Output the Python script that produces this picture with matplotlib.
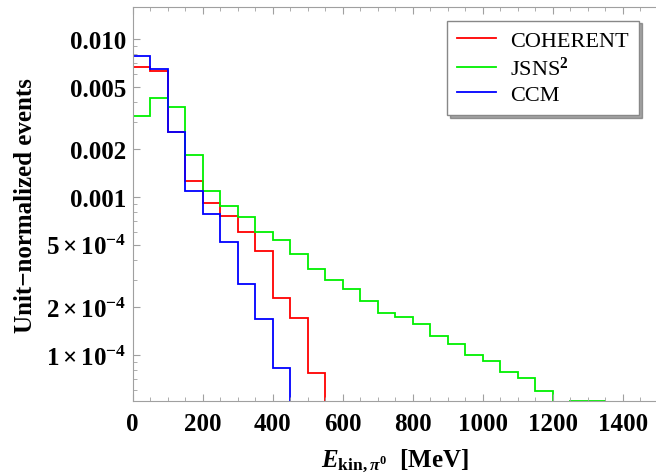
import numpy as np
import matplotlib
matplotlib.use("Agg")
import matplotlib.pyplot as plt
from matplotlib.ticker import FixedLocator, MultipleLocator

plt.rcParams["font.family"] = ["Liberation Serif", "DejaVu Serif"]
plt.rcParams["mathtext.fontset"] = "custom"
plt.rcParams["mathtext.rm"] = "Liberation Serif:bold"
plt.rcParams["mathtext.bf"] = "Liberation Serif:bold"
plt.rcParams["mathtext.it"] = "Liberation Serif:italic:bold"

# bin edges, 50 MeV wide
edges = np.arange(0, 1501, 50)

coherent = [0.00668, 0.00630, 0.00259, 0.001268, 0.000916, 0.000762,
            0.000598, 0.000453, 0.000230, 0.000171, 7.69e-5]
jsns2 = [0.00327, 0.00424, 0.00370, 0.001845, 0.001087, 0.000877,
         0.000745, 0.000600, 0.000535, 0.000436, 0.000352, 0.000300,
         0.000262, 0.000221, 0.000185, 0.000173, 0.000156, 0.000131,
         0.0001174, 0.0001005, 9.2e-5, 7.78e-5, 7.15e-5, 5.89e-5,
         0.0, 5.14e-5, 5.14e-5]
ccm = [0.00784, 0.00645, 0.00259, 0.001096, 0.000780, 0.000516,
       0.000281, 0.000169, 8.28e-5]

series = [("COHERENT", coherent, "#ff0000"),
          ("JSNS$^2$", jsns2, "#00f000"),
          ("CCM", ccm, "#0000ff")]

ytick_vals = [0.01, 0.005, 0.002, 0.001, 5e-4, 2e-4, 1e-4]
ytick_labels = ["0.010", "0.005", "0.002", "0.001",
                r"$5\times10^{-4}$", r"$2\times10^{-4}$", r"$1\times10^{-4}$"]


def padded(vals):
    out = np.zeros(len(edges) - 1)
    out[:len(vals)] = vals
    return out


fig = plt.figure(figsize=(6.56, 4.77), dpi=100)
ax = fig.add_axes([0.2023, 0.1566, 0.8003, 0.826])

for name, vals, col in series:
    ax.stairs(padded(vals), edges, baseline=None, color=col, lw=1.3,
              label=name)

ax.set_yscale("log")
ax.set_xlim(0, 1500)
ax.set_ylim(5.09e-5, 0.01587)

ax.yaxis.set_major_locator(FixedLocator(ytick_vals))
ax.set_yticklabels(ytick_labels)
minor = [m * 10.0 ** e for e in (-5, -4, -3, -2) for m in range(1, 10)]
minor = [v for v in minor if v not in ytick_vals]
ax.yaxis.set_minor_locator(FixedLocator(minor))
ax.xaxis.set_major_locator(MultipleLocator(200))
ax.xaxis.set_minor_locator(MultipleLocator(50))

frame = "#a0a0a0"
for s in ax.spines.values():
    s.set_color(frame)
ax.tick_params(which="both", direction="in", color=frame, top=True,
               right=False, labelsize=18)
ax.tick_params(which="major", length=5)
ax.tick_params(which="minor", length=3)
ax.tick_params(axis="x", pad=8)
ax.tick_params(axis="y", pad=4.5)
for lab in ax.get_xticklabels() + ax.get_yticklabels():
    lab.set_fontweight("bold")

ax.set_ylabel("Unit\u2212normalized events", fontsize=18, fontweight="bold",
              labelpad=7)
ax.set_xlabel(r"$E_{\mathrm{kin},\pi^0}$  [MeV]", fontsize=18,
              fontweight="bold", labelpad=8)

leg = ax.legend(loc="upper right", bbox_to_anchor=(0.964, 0.966),
                fontsize=16, frameon=True, fancybox=False, shadow=True,
                handlelength=1.75, handletextpad=0.65, borderpad=0.45,
                labelspacing=0.22, borderaxespad=0)
leg.get_frame().set_edgecolor("#888888")
leg.get_frame().set_linewidth(1.0)

fig.savefig("out.png", dpi=100)
